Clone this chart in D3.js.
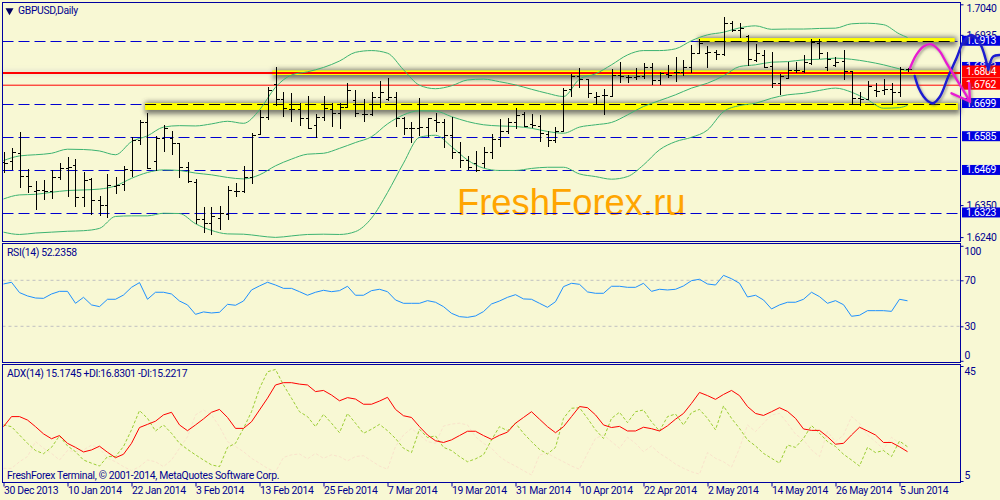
<!DOCTYPE html>
<html><head><meta charset="utf-8">
<script src="https://cdn.jsdelivr.net/npm/d3@7/dist/d3.min.js"></script>
<style>html,body{margin:0;padding:0;background:#f8f8d4;overflow:hidden}svg{display:block}text{font-family:Roboto,"Liberation Sans",sans-serif;letter-spacing:-0.33px}</style>
</head><body><svg id="c" width="1000" height="500"></svg>
<script>
const symbolTitle="GBPUSD,Daily";
const rsiTitle="RSI(14) 52.2358";
const adxTitle="ADX(14) 15.1745 +DI:16.8301 -DI:15.2217";
const copyright="FreshForex Terminal, © 2001-2014, MetaQuotes Software Corp.";
const watermark="FreshForex.ru";
const dateLabels=["30 Dec 2013","10 Jan 2014","22 Jan 2014","3 Feb 2014","13 Feb 2014","25 Feb 2014","7 Mar 2014","19 Mar 2014","31 Mar 2014","10 Apr 2014","22 Apr 2014","2 May 2014","14 May 2014","26 May 2014","5 Jun 2014"];
const priceTicks=[1.7040,1.6935,1.6350,1.6240];
const rsiTicks=[100,70,30,0];
const adxTicks=[45,5];
const supportLevels=[1.6913,1.6699,1.6585,1.6469,1.6323];
const blueTags=[1.6913,1.6823,1.6699,1.6585,1.6469,1.6323];
const redTags=[1.6804,1.6762];
const highs=[1.6534,1.6545,1.6600,1.6473,1.6433,1.6437,1.6471,1.6494,1.6515,1.6508,1.6465,1.6442,1.6382,1.6457,1.6448,1.6485,1.6583,1.6643,1.6666,1.6588,1.6624,1.6604,1.6563,1.6497,1.6439,1.6343,1.6343,1.6347,1.6414,1.6425,1.6485,1.6597,1.6677,1.6755,1.6826,1.6740,1.6734,1.6700,1.6725,1.6663,1.6725,1.6700,1.6700,1.6769,1.6746,1.6714,1.6740,1.6778,1.6786,1.6740,1.6652,1.6634,1.6717,1.6650,1.6666,1.6645,1.6652,1.6566,1.6517,1.6536,1.6548,1.6594,1.6645,1.6648,1.6683,1.6671,1.6663,1.6660,1.6603,1.6620,1.6752,1.6801,1.6820,1.6782,1.6740,1.6748,1.6817,1.6841,1.6797,1.6820,1.6837,1.6840,1.6809,1.6832,1.6858,1.6847,1.6900,1.6920,1.6895,1.6883,1.6995,1.6984,1.6975,1.6935,1.6904,1.6883,1.6877,1.6801,1.6843,1.6843,1.6866,1.6920,1.6920,1.6877,1.6858,1.6883,1.6812,1.6737,1.6777,1.6769,1.6782,1.6769,1.6824,1.6820];
const lows=[1.6460,1.6471,1.6408,1.6391,1.6334,1.6368,1.6371,1.6437,1.6379,1.6342,1.6345,1.6316,1.6311,1.6304,1.6389,1.6397,1.6448,1.6555,1.6473,1.6466,1.6534,1.6523,1.6442,1.6425,1.6286,1.6253,1.6248,1.6265,1.6299,1.6379,1.6391,1.6423,1.6591,1.6643,1.6691,1.6654,1.6634,1.6622,1.6612,1.6580,1.6640,1.6620,1.6612,1.6682,1.6652,1.6637,1.6657,1.6683,1.6706,1.6620,1.6591,1.6565,1.6586,1.6583,1.6600,1.6545,1.6508,1.6477,1.6471,1.6462,1.6477,1.6508,1.6551,1.6595,1.6611,1.6618,1.6614,1.6568,1.6551,1.6563,1.6603,1.6723,1.6752,1.6717,1.6694,1.6660,1.6723,1.6769,1.6771,1.6780,1.6784,1.6763,1.6763,1.6788,1.6774,1.6792,1.6805,1.6868,1.6820,1.6849,1.6863,1.6946,1.6923,1.6828,1.6843,1.6820,1.6752,1.6729,1.6782,1.6803,1.6803,1.6832,1.6851,1.6812,1.6826,1.6780,1.6697,1.6691,1.6714,1.6723,1.6729,1.6694,1.6721,1.6809];
const opens=[1.6497,1.6500,1.6528,1.6450,1.6397,1.6402,1.6397,1.6446,1.6479,1.6488,1.6379,1.6439,1.6366,1.6349,1.6417,1.6423,1.6471,1.6574,1.6635,1.6500,1.6582,1.6582,1.6563,1.6482,1.6428,1.6302,1.6288,1.6305,1.6319,1.6400,1.6400,1.6446,1.6594,1.6654,1.6765,1.6714,1.6679,1.6679,1.6648,1.6626,1.6654,1.6679,1.6668,1.6686,1.6712,1.6663,1.6663,1.6721,1.6714,1.6723,1.6648,1.6614,1.6614,1.6620,1.6643,1.6634,1.6591,1.6532,1.6505,1.6494,1.6494,1.6531,1.6576,1.6605,1.6634,1.6663,1.6628,1.6622,1.6594,1.6574,1.6606,1.6748,1.6794,1.6782,1.6721,1.6729,1.6725,1.6797,1.6789,1.6789,1.6794,1.6824,1.6780,1.6801,1.6807,1.6807,1.6826,1.6872,1.6872,1.6875,1.6870,1.6975,1.6950,1.6931,1.6849,1.6866,1.6829,1.6769,1.6786,1.6815,1.6812,1.6837,1.6906,1.6826,1.6832,1.6845,1.6812,1.6717,1.6714,1.6746,1.6746,1.6748,1.6737,1.6817];
const closes=[1.6494,1.6532,1.6450,1.6416,1.6402,1.6397,1.6446,1.6477,1.6480,1.6379,1.6437,1.6366,1.6349,1.6420,1.6420,1.6473,1.6574,1.6635,1.6479,1.6582,1.6614,1.6563,1.6482,1.6433,1.6302,1.6288,1.6311,1.6322,1.6402,1.6400,1.6446,1.6592,1.6654,1.6746,1.6714,1.6683,1.6679,1.6648,1.6614,1.6652,1.6683,1.6668,1.6686,1.6746,1.6668,1.6663,1.6721,1.6740,1.6721,1.6648,1.6614,1.6614,1.6620,1.6650,1.6634,1.6591,1.6532,1.6505,1.6482,1.6471,1.6531,1.6576,1.6605,1.6634,1.6660,1.6622,1.6626,1.6597,1.6574,1.6603,1.6746,1.6794,1.6782,1.6734,1.6725,1.6729,1.6797,1.6792,1.6789,1.6794,1.6824,1.6780,1.6803,1.6796,1.6809,1.6826,1.6872,1.6908,1.6875,1.6870,1.6975,1.6950,1.6958,1.6851,1.6872,1.6826,1.6769,1.6794,1.6815,1.6815,1.6843,1.6912,1.6872,1.6851,1.6843,1.6812,1.6717,1.6714,1.6760,1.6743,1.6748,1.6737,1.6817,1.6817];
const bandBars=[0,2,4,6,8,10,12,14,16,18,20,22,24,26,28,30,32,34,36,38,40,42,44,46,48,50,52,54,56,58,60,62,64,66,68,70,72,74,76,78,80,82,84,86,88,90,92,94,96,98,100,102,104,106,108,110,112,113];
const bbUpper=[1.6503,1.6519,1.6523,1.6528,1.6542,1.6541,1.6536,1.6523,1.6568,1.6588,1.6618,1.6623,1.6622,1.6629,1.6638,1.6631,1.6677,1.6755,1.6797,1.6808,1.6823,1.6845,1.6875,1.6881,1.6872,1.6815,1.6762,1.6750,1.6760,1.6780,1.6783,1.6774,1.6763,1.6748,1.6734,1.6723,1.6783,1.6801,1.6832,1.6866,1.6881,1.6881,1.6887,1.6915,1.6935,1.6944,1.6959,1.6966,1.6954,1.6955,1.6955,1.6957,1.6958,1.6973,1.6975,1.6970,1.6938,1.6926];
const bbMiddle=[1.6371,1.6385,1.6387,1.6394,1.6400,1.6402,1.6405,1.6416,1.6442,1.6462,1.6471,1.6469,1.6460,1.6454,1.6445,1.6440,1.6454,1.6485,1.6508,1.6525,1.6528,1.6545,1.6565,1.6585,1.6629,1.6660,1.6674,1.6673,1.6654,1.6637,1.6626,1.6622,1.6620,1.6614,1.6603,1.6597,1.6618,1.6626,1.6634,1.6660,1.6689,1.6709,1.6729,1.6752,1.6769,1.6794,1.6826,1.6832,1.6841,1.6843,1.6849,1.6851,1.6855,1.6851,1.6843,1.6832,1.6818,1.6812];
const bbLower=[1.6257,1.6249,1.6254,1.6257,1.6260,1.6262,1.6270,1.6311,1.6313,1.6313,1.6322,1.6321,1.6286,1.6263,1.6251,1.6250,1.6244,1.6239,1.6244,1.6249,1.6250,1.6249,1.6259,1.6305,1.6393,1.6494,1.6583,1.6590,1.6551,1.6505,1.6477,1.6469,1.6469,1.6476,1.6480,1.6480,1.6457,1.6448,1.6439,1.6448,1.6488,1.6540,1.6568,1.6583,1.6608,1.6671,1.6692,1.6700,1.6717,1.6729,1.6734,1.6744,1.6752,1.6738,1.6712,1.6683,1.6685,1.6693];
const rsi=[66.8,68.3,59.3,56.4,54.6,54.3,58.1,60.4,60.4,50.0,55.2,48.6,47.1,53.5,53.5,57.2,63.9,68.0,53.5,59.6,59.6,58.1,52.0,48.6,40.4,42.5,41.6,42.2,49.1,48.3,52.0,61.6,65.1,68.3,65.9,63.0,63.0,60.1,57.0,59.6,61.3,60.1,61.0,64.8,57.0,57.0,61.0,62.2,60.1,52.9,50.0,50.0,50.0,52.3,50.9,47.1,41.3,38.4,37.8,39.0,42.8,49.4,52.0,55.2,57.5,53.8,53.5,50.0,46.5,51.4,64.5,67.4,66.5,59.9,58.7,58.7,64.8,64.8,63.9,63.9,67.4,60.4,62.2,61.6,62.2,65.1,69.7,70.9,66.8,65.9,74.3,71.4,67.4,55.5,57.0,52.9,45.1,48.6,50.9,50.9,53.5,59.6,55.8,50.0,52.3,48.8,38.7,39.6,43.6,43.6,43.6,43.0,53.5,52.2];
const adx=[23.9,27.4,27.4,26.2,23.9,21.4,19.7,20.8,18.1,16.7,15.1,15.8,17.1,15.0,13.1,14.3,18.1,23.6,24.7,25.8,28.0,28.9,24.5,22.5,24.5,26.6,28.9,29.9,27.1,23.3,23.3,25.6,29.7,33.8,38.4,39.2,39.2,38.7,38.4,36.1,36.5,34.9,32.9,34.0,33.5,31.7,31.7,32.8,34.1,29.9,27.7,27.1,23.9,21.0,19.0,18.4,19.3,20.8,22.3,22.3,20.8,19.5,20.9,22.0,25.1,27.1,29.1,26.5,23.9,21.8,23.9,27.4,30.9,30.5,28.0,24.5,23.6,24.0,22.4,22.4,23.7,23.2,22.4,24.2,26.5,28.5,32.0,35.8,34.7,33.4,35.1,36.5,34.7,30.9,28.5,27.8,29.1,30.5,29.2,26.8,23.1,22.6,22.6,20.4,17.8,18.1,21.0,23.7,22.4,21.0,18.4,18.4,16.9,15.2];
const plusDI=[24.5,23.9,21.0,18.1,15.6,14.5,16.7,20.7,17.2,15.2,12.3,11.2,10.2,13.5,13.5,17.0,22.8,29.5,26.8,22.4,24.5,21.6,18.1,16.0,14.1,12.3,10.6,10.0,16.7,18.1,23.3,29.1,37.2,43.0,43.8,38.4,33.8,29.1,27.4,23.9,28.2,25.1,21.8,28.5,25.1,21.6,23.0,24.7,22.5,19.8,16.4,14.9,23.0,20.1,20.7,16.7,15.6,13.5,11.7,12.7,14.1,19.3,23.9,22.5,25.1,21.6,18.7,16.0,14.4,16.7,26.8,30.3,30.5,26.8,22.8,19.8,26.8,28.9,25.3,29.1,29.7,25.6,22.4,27.4,28.3,24.5,28.8,29.9,26.8,22.8,31.1,26.8,23.3,19.3,17.2,14.6,12.9,11.2,17.5,16.7,19.8,24.3,21.6,18.7,17.0,14.3,12.3,10.2,16.7,14.9,15.6,13.5,18.9,16.9];
const minusDI=[9.4,9.4,11.7,13.5,18.7,16.4,14.6,12.3,15.6,15.2,15.8,17.5,16.4,12.9,11.7,10.0,8.6,10.0,12.3,11.7,10.0,12.3,16.4,20.4,28.0,29.7,28.0,23.9,18.7,17.0,15.2,12.9,11.2,9.4,8.2,13.2,14.1,14.4,12.7,14.6,12.9,14.1,13.5,12.0,13.5,13.8,12.0,10.2,9.1,17.0,21.0,23.3,21.0,18.7,18.1,24.1,24.8,25.1,24.5,20.4,18.1,16.4,13.5,11.6,10.2,8.6,7.1,14.1,14.6,13.1,11.7,10.2,9.1,14.6,19.8,21.0,18.7,16.4,20.2,18.1,15.2,17.2,14.6,12.9,10.9,9.4,8.2,7.4,14.9,12.9,11.7,9.8,16.4,24.5,22.2,25.1,28.0,28.5,25.1,21.3,19.3,15.8,13.5,22.2,18.7,21.0,27.4,25.1,21.0,18.7,16.0,20.2,18.1,15.2];
// zones: [first bar, last bar, top price, bottom price]
const zones=[[86.9,118.9,1.6924,1.6911],[17.7,119.3,1.6701,1.6677],[33.6,118.9,1.6813,1.6797]];
const redLevels=[1.6804,1.6762];
// hand-drawn annotations as [bar, price]
const blueStroke=[[113.9,1.6794],[114.4,1.6752],[115,1.6723],[115.6,1.6706],[116.2,1.6700],[117.06,1.6723],[118.1,1.6792],[119.2,1.6860],[120,1.6912],[121,1.6935],[122.06,1.6906],[123.1,1.6815]];
const blueArm=[[123.1,1.6815],[123.7,1.6860],[124.5,1.6866]];
const pinkStroke=[[113.3,1.6820],[114.1,1.6866],[115,1.6895],[115.9,1.6903],[116.9,1.6883],[117.9,1.6837],[118.9,1.6792],[119.8,1.6752],[120.8,1.6706]];
const pinkArmA=[[118.5,1.6734],[120.8,1.6706]];
const pinkArmB=[[120.7,1.6769],[120.8,1.6706]];

const navy="#000090",frame="#0000a0",bg="#f8f8d4";
const svg=d3.select("#c");
const defs=svg.append("defs");
defs.append("filter").attr("id","blur").attr("x","-10%").attr("y","-300%").attr("width","120%").attr("height","700%")
 .append("feGaussianBlur").attr("stdDeviation",2.4);
const ds=defs.append("filter").attr("id","sh").attr("x","-20%").attr("y","-20%").attr("width","140%").attr("height","140%");
ds.append("feDropShadow").attr("dx",1.5).attr("dy",1.5).attr("stdDeviation",1).attr("flood-color","#555").attr("flood-opacity",0.5);
svg.append("rect").attr("width",1000).attr("height",500).attr("fill",bg);

const L=2.5,R=960.5;
const x=d3.scaleLinear().domain([0,113]).range([3.5,907.5]);
const y=d3.scaleLinear().domain([1.6240,1.7040]).range([237.1,4.3]);
const yR=d3.scaleLinear().domain([0,100]).range([360.8,245.8]);
const yA=d3.scaleLinear().domain([5,45]).range([481,366]);
const FS="10.4px";

// watermark
svg.append("text").text(watermark).attr("x",457).attr("y",215).attr("fill","#ffa500")
 .style("font-family","'Liberation Sans',sans-serif").style("letter-spacing","0").style("font-size","36.4px");

// dashed levels
svg.selectAll(".lvl").data(supportLevels).join("line").attr("x1",L).attr("x2",R)
 .attr("y1",d=>Math.round(y(d))+.5).attr("y2",d=>Math.round(y(d))+.5)
 .attr("stroke","#0000d0").attr("stroke-dasharray","11 5");

// zones with soft shadow
const shadow=svg.append("g").attr("filter","url(#blur)").attr("opacity",0.7);
shadow.selectAll("rect").data(zones).join("rect").attr("x",z=>x(z[0])).attr("width",z=>x(z[1])-x(z[0])+2)
 .attr("y",z=>y(z[2])-1).attr("height",z=>y(z[3])-y(z[2])+5).attr("fill","#444");
shadow.append("rect").attr("x",L).attr("width",x(34)-L).attr("y",y(1.6804)-2).attr("height",3).attr("fill","#ccc");
svg.selectAll(".zone").data(zones).join("rect").attr("x",z=>x(z[0])).attr("width",z=>x(z[1])-x(z[0]))
 .attr("y",z=>y(z[2])).attr("height",z=>y(z[3])-y(z[2])).attr("fill","#ffff00");
svg.selectAll(".zd").data(zones.slice(0,2)).join("line").attr("x1",z=>x(z[0])).attr("x2",z=>x(z[1]))
 .attr("y1",(z,i)=>Math.round(y(supportLevels[i]))+.5).attr("y2",(z,i)=>Math.round(y(supportLevels[i]))+.5)
 .attr("stroke","#000").attr("stroke-dasharray","11 5");
// red levels
svg.selectAll(".red").data(redLevels).join("line").attr("x1",L).attr("x2",R)
 .attr("y1",d=>y(d)).attr("y2",d=>y(d)).attr("stroke","#ff0000").attr("stroke-width",(d,i)=>i?1:2);

// Bollinger bands
const bbLine=d3.line().x(d=>x(d[0])).y(d=>y(d[1])).curve(d3.curveMonotoneX);
[bbUpper,bbMiddle,bbLower].forEach(s=>{
 svg.append("path").attr("d",bbLine(bandBars.map((b,i)=>[b,s[i]]))).attr("fill","none").attr("stroke","#3cb371").attr("stroke-width",1);
});

// OHLC bars
const bars=svg.append("g").attr("stroke","#000").attr("shape-rendering","crispEdges");
highs.forEach((h,i)=>{
 const cx=Math.round(x(i))+.5;
 bars.append("line").attr("x1",cx).attr("x2",cx).attr("y1",y(h)).attr("y2",y(lows[i]));
 bars.append("line").attr("x1",cx-3).attr("x2",cx).attr("y1",Math.round(y(opens[i]))+.5).attr("y2",Math.round(y(opens[i]))+.5);
 bars.append("line").attr("x1",cx).attr("x2",cx+3).attr("y1",Math.round(y(closes[i]))+.5).attr("y2",Math.round(y(closes[i]))+.5);
});

// RSI
svg.selectAll(".rl").data([70,30]).join("line").attr("x1",L).attr("x2",R).attr("y1",d=>yR(d)).attr("y2",d=>yR(d))
 .attr("stroke","#c0c0c0").attr("stroke-dasharray","3 3");
svg.append("path").attr("d",d3.line().x((d,i)=>x(i)).y(d=>yR(d))(rsi)).attr("fill","none").attr("stroke","#1e90ff").attr("stroke-width",1);

// ADX
const aLine=d3.line().x((d,i)=>x(i)).y(d=>yA(d));
svg.append("path").attr("d",aLine(minusDI)).attr("fill","none").attr("stroke","#fae3cc").attr("stroke-dasharray","3 2");
svg.append("path").attr("d",aLine(plusDI)).attr("fill","none").attr("stroke","#9acd32").attr("stroke-dasharray","3 2");
svg.append("path").attr("d",aLine(adx)).attr("fill","none").attr("stroke","#ff0000").attr("stroke-width",1);

// frames
[[2.5,241.5],[243.5,362.5],[364.5,482.5]].forEach(f=>{
 svg.append("rect").attr("x",L).attr("y",f[0]).attr("width",R-L).attr("height",f[1]-f[0]).attr("fill","none").attr("stroke",frame).attr("stroke-width",1);
});

// axes
const fmtAxis=(g)=>{g.select(".domain").remove();g.selectAll("line").attr("stroke",frame);
 g.selectAll("text").attr("fill",navy).attr("font-family",null).style("font-size",FS);};
const yAxis=svg.append("g").attr("transform",`translate(${R},0)`)
 .call(d3.axisRight(y).tickValues(priceTicks).tickSize(3).tickFormat(d3.format(".4f"))).call(fmtAxis);
yAxis.selectAll("text").attr("dy",d=>d==1.704?"0.7em":"0.32em").attr("x",6);
svg.append("g").attr("transform",`translate(${R},0)`)
 .call(d3.axisRight(yR).tickValues(rsiTicks).tickSize(3)).call(fmtAxis)
 .selectAll("text").attr("x",4).attr("dy",d=>d==100?"0.85em":d==0?"-0.25em":"0.32em");
svg.append("g").attr("transform",`translate(${R},0)`)
 .call(d3.axisRight(yA).tickValues(adxTicks).tickSize(3)).call(fmtAxis)
 .selectAll("text").attr("x",4).attr("dy",d=>d==45?"0.8em":"-0.25em");
const xAxis=svg.append("g").attr("transform","translate(0,482.5)")
 .call(d3.axisBottom(x).tickValues(dateLabels.map((d,i)=>i*8)).tickSize(4).tickFormat((d,i)=>dateLabels[i])).call(fmtAxis);
xAxis.selectAll("text").attr("text-anchor","start").attr("x",0).attr("y",4).attr("dy","0.71em");

// price tags
const tag=(v,fill,top,h,dy)=>{
 svg.append("rect").attr("x",962).attr("width",38).attr("y",y(v)-top).attr("height",h).attr("fill",fill);
 svg.append("text").text(d3.format(".4f")(v)).attr("x",966).attr("y",y(v)+dy).attr("fill","#fff").style("font-size",FS);
};
blueTags.forEach(v=>tag(v,"#0000e0",5.5,10,3));
tag(redTags[0],"#ff0000",7.5,12,2.5);
tag(redTags[1],"#ff0000",7.5,12,3);

// titles
svg.append("path").attr("d",d3.symbol().type(d3.symbolTriangle).size(28)).attr("transform","translate(9.5,10.5) rotate(180)").attr("fill","#000060");
const label=(t,xp,yp)=>svg.append("text").text(t).attr("x",xp).attr("y",yp).attr("fill",navy).style("font-size",FS);
label(symbolTitle,18,14);
label(rsiTitle,7,256);
label(adxTitle,7,377);
label(copyright,7,479);

// hand-drawn overlay
const hand=svg.append("g").attr("filter","url(#sh)").attr("fill","none").attr("stroke-width",2.4).attr("stroke-linecap","round").attr("stroke-linejoin","round");
const hLine=d3.line().x(d=>x(d[0])).y(d=>y(d[1])).curve(d3.curveCatmullRom);
hand.append("path").attr("d",hLine(blueStroke)).attr("stroke","#1a1ad0");
hand.append("path").attr("d",hLine(blueArm)).attr("stroke","#1a1ad0");
hand.append("path").attr("d",hLine(pinkStroke)).attr("stroke","#e81fd0");
hand.append("path").attr("d",hLine(pinkArmA)).attr("stroke","#e81fd0");
hand.append("path").attr("d",hLine(pinkArmB)).attr("stroke","#e81fd0");
</script></body></html>
